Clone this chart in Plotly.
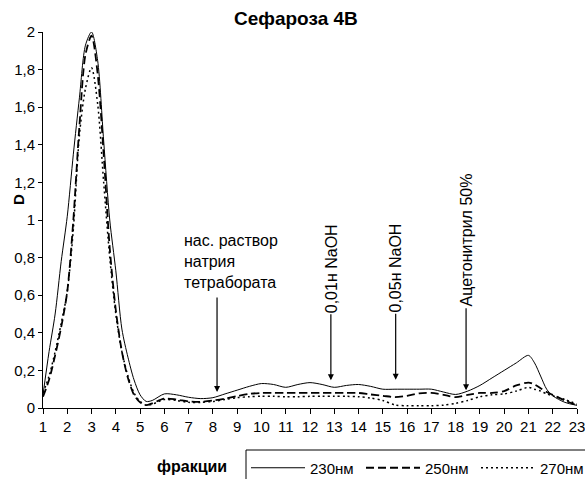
import plotly.graph_objects as go

fractions = [1, 1.25, 1.5, 1.75, 2, 2.25, 2.5, 2.75, 3, 3.25, 3.5, 3.75, 4, 4.25, 4.5, 4.75,
             5, 5.25, 5.5, 6, 6.5, 7, 7.5, 8, 8.5, 9, 9.5, 10, 10.5, 11, 11.5, 12, 12.5,
             13, 13.5, 14, 14.5, 15, 15.5, 16, 16.5, 17, 17.5, 18, 18.5, 19, 19.5, 20,
             20.5, 21, 21.25, 21.5, 21.75, 22, 22.5, 23]

d230 = [0.07, 0.3, 0.5, 0.78, 1.02, 1.35, 1.65, 1.93, 2.0, 1.85, 1.42, 1.0, 0.73, 0.42, 0.27, 0.15,
        0.07, 0.035, 0.04, 0.075, 0.07, 0.057, 0.05, 0.055, 0.075, 0.095, 0.115, 0.13, 0.125, 0.11,
        0.125, 0.135, 0.125, 0.11, 0.12, 0.125, 0.115, 0.1, 0.1, 0.1, 0.1, 0.1, 0.085, 0.072, 0.09,
        0.12, 0.16, 0.2, 0.24, 0.28, 0.24, 0.17, 0.1, 0.065, 0.03, 0.014]

d250 = [0.06, 0.15, 0.28, 0.43, 0.62, 1.0, 1.5, 1.88, 1.98, 1.78, 1.35, 0.85, 0.52, 0.3, 0.16, 0.07,
        0.03, 0.015, 0.025, 0.05, 0.045, 0.035, 0.033, 0.04, 0.05, 0.063, 0.075, 0.08, 0.08, 0.08,
        0.08, 0.08, 0.08, 0.08, 0.08, 0.08, 0.072, 0.065, 0.058, 0.065, 0.078, 0.08, 0.07, 0.058,
        0.07, 0.08, 0.08, 0.09, 0.12, 0.135, 0.125, 0.105, 0.085, 0.07, 0.04, 0.014]

d270 = [0.08, 0.17, 0.3, 0.45, 0.62, 0.95, 1.45, 1.7, 1.81, 1.62, 1.2, 0.8, 0.5, 0.3, 0.17, 0.08,
        0.035, 0.015, 0.02, 0.045, 0.04, 0.03, 0.03, 0.035, 0.045, 0.055, 0.06, 0.063, 0.062, 0.06,
        0.06, 0.062, 0.062, 0.062, 0.062, 0.06, 0.053, 0.04, 0.016, 0.012, 0.012, 0.012, 0.015,
        0.025, 0.04, 0.06, 0.07, 0.075, 0.09, 0.11, 0.1, 0.09, 0.075, 0.065, 0.045, 0.02]

x_ticks = list(range(1, 24))
y_ticks = [0, 0.2, 0.4, 0.6, 0.8, 1.0, 1.2, 1.4, 1.6, 1.8, 2.0]

markers = [
    {"text": "0,01н NaOH", "x": 12.86, "y": 0.147, "ay": -112},
    {"text": "0,05н NaOH", "x": 15.53, "y": 0.15, "ay": -112},
    {"text": "Ацетонитрил 50%", "x": 18.43, "y": 0.094, "ay": -150},
]

FONT = "Liberation Sans, Arial, sans-serif"
L, T, W, H = 43, 32, 534, 376  # plot area in px


def px(xp):
    return (xp - L) / W


def py(yp):
    return (T + H - yp) / H


fig = go.Figure()
fig.add_trace(go.Scatter(x=fractions, y=d230, name="230нм", mode="lines",
                         line=dict(color="black", width=1, shape="spline", smoothing=0.8)))
fig.add_trace(go.Scatter(x=fractions, y=d250, name="250нм", mode="lines",
                         line=dict(color="black", width=1.8, dash="8px,4px", shape="spline", smoothing=0.8)))
fig.add_trace(go.Scatter(x=fractions, y=d270, name="270нм", mode="lines",
                         line=dict(color="black", width=1.5, dash="2px,3px", shape="spline", smoothing=0.8)))

annotations = [
    dict(text="<b>Сефароза 4В</b>", xref="paper", yref="paper", x=px(296), y=py(18),
         xanchor="center", yanchor="middle", showarrow=False,
         font=dict(size=19, family=FONT, color="black")),
    dict(text="<b>D</b>", xref="paper", yref="paper", x=px(18), y=py(200),
         xanchor="center", yanchor="middle", showarrow=False, textangle=-90,
         font=dict(size=15, family=FONT, color="black")),
    dict(text="<b>фракции</b>", xref="paper", yref="paper", x=px(192), y=py(466),
         xanchor="center", yanchor="middle", showarrow=False,
         font=dict(size=16, family=FONT, color="black")),
    dict(text="нас. раствор<br>натрия<br>тетрабората", xref="paper", yref="paper",
         x=px(182), y=py(230), xanchor="left", yanchor="top", align="left", showarrow=False,
         font=dict(size=16, family=FONT, color="black")),
    dict(text="", x=8.17, y=0.085, ax=0, ay=-96, showarrow=True, arrowhead=2, arrowsize=1,
         arrowwidth=1.2, arrowcolor="black", font=dict(size=1)),
]
for m in markers:
    annotations.append(dict(text=m["text"], x=m["x"], y=m["y"], ax=0, ay=m["ay"], textangle=-90,
                            showarrow=True, arrowhead=2, arrowsize=1, arrowwidth=1.2, arrowcolor="black",
                            font=dict(size=16, family=FONT, color="black")))

fig.update_layout(
    width=585, height=479,
    margin=dict(l=L, r=585 - L - W, t=T, b=479 - T - H, autoexpand=False),
    paper_bgcolor="white", plot_bgcolor="white",
    separators=", ",
    font=dict(family=FONT, size=15, color="black"),
    showlegend=True,
    legend=dict(orientation="h", x=px(246), y=py(468), xanchor="left", yanchor="middle",
                borderwidth=0, entrywidth=46, itemwidth=54, font=dict(size=15, family=FONT),
                bgcolor="rgba(0,0,0,0)", tracegroupgap=0),
    shapes=[dict(type="rect", xref="paper", yref="paper", x0=px(246), x1=px(600), y0=py(450), y1=py(490),
                 line=dict(color="black", width=1), fillcolor="rgba(0,0,0,0)")],
    xaxis=dict(range=[1, 23], tickmode="array", tickvals=x_ticks, ticks="outside", ticklen=5,
               tickcolor="black", showline=True, linecolor="black", showgrid=False, zeroline=False,
               tickfont=dict(size=15), automargin=False, ticklabeloverflow="allow"),
    yaxis=dict(range=[0, 2], tickmode="array", tickvals=y_ticks, tickformat=".1~f", ticks="outside",
               ticklen=4, tickcolor="black", showline=True, linecolor="black", showgrid=False,
               zeroline=False, tickfont=dict(size=15), automargin=False, ticklabeloverflow="allow"),
    annotations=annotations,
)

fig.write_html("out.html")
